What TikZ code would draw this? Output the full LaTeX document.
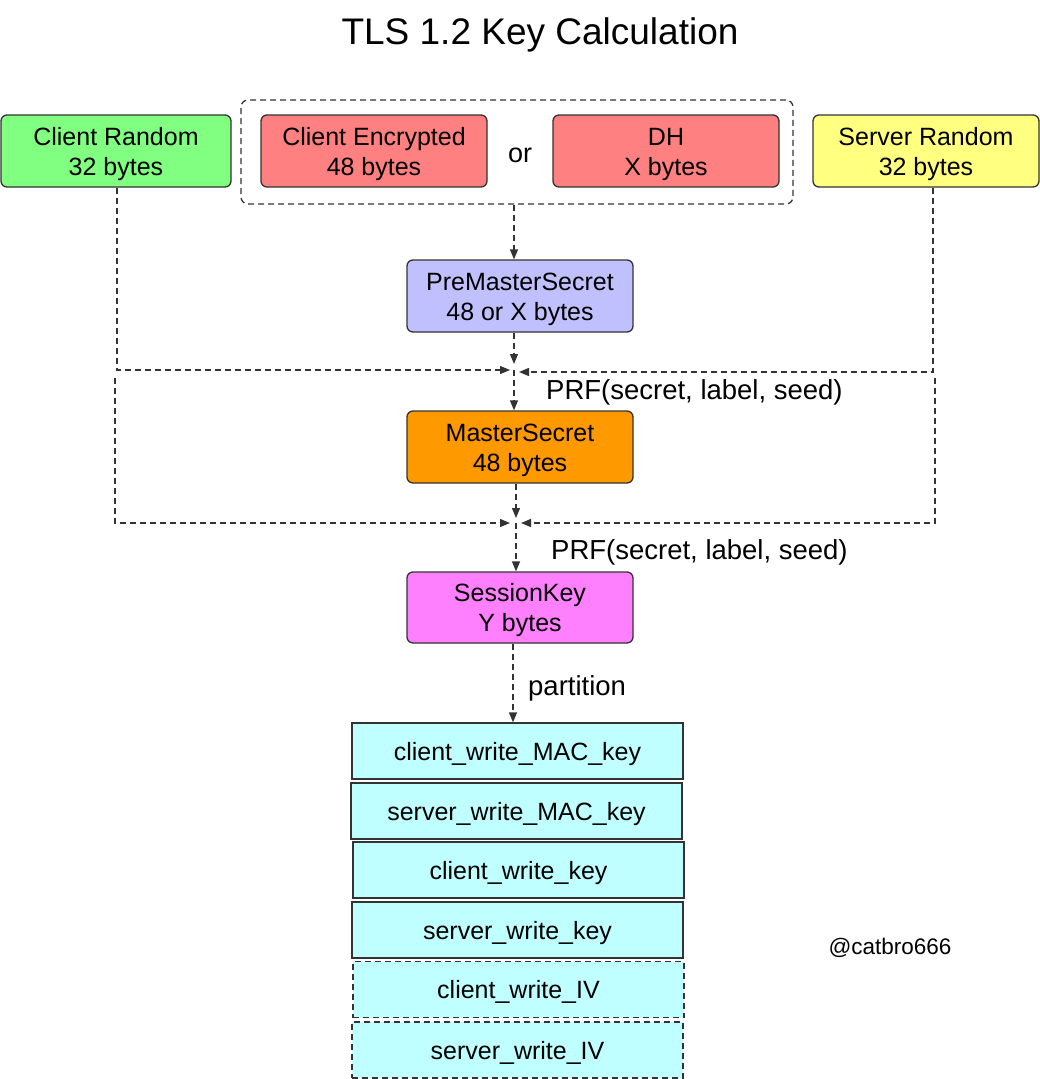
\documentclass[tikz,border=0pt]{standalone}
\usepackage{fontspec}
\setmainfont{Liberation Sans}
\usetikzlibrary{arrows.meta}
\definecolor{cgreen}{HTML}{80FF80}
\definecolor{cred}{HTML}{FF8080}
\definecolor{cyellow}{HTML}{FFFF80}
\definecolor{clav}{HTML}{C0C0FF}
\definecolor{corange}{HTML}{FF9900}
\definecolor{cmag}{HTML}{FF80FF}
\definecolor{ccyan}{HTML}{C0FFFF}
\definecolor{edge}{HTML}{333333}
\tikzset{
  box/.style={draw=edge, line width=1.3pt, rounded corners=6pt, minimum width=226pt, minimum height=72pt,
    inner sep=0pt, align=center, text height=53.6pt, text depth=5.2pt, font=\fontsize{25}{30}\selectfont},
  keybox/.style={draw=edge, line width=1.3pt, fill=ccyan, minimum width=331pt, minimum height=56pt,
    inner sep=0pt, align=center, text height=23pt, text depth=5pt, font=\fontsize{25}{30}\selectfont},
  conn/.style={draw=edge, line width=1.3pt, dash pattern=on 6pt off 4pt},
  arr/.style={conn, -{Triangle[length=10pt,width=8pt]}},
  lbl/.style={anchor=west, inner sep=0pt, font=\fontsize{27.5}{30}\selectfont}
}
\begin{document}
\begin{tikzpicture}[x=1pt,y=-1pt]
\useasboundingbox (0,0) rectangle (1040,1079);
\node[font=\fontsize{37}{40}\selectfont] (title) at (540,35) {TLS 1.2 Key Calculation};
% top row
\node[box, fill=cgreen, minimum width=230pt] (cr) at (116,151) {Client Random\\32 bytes};
\node[box, fill=cred] (ce) at (374,151) {Client Encrypted\\48 bytes};
\node[font=\fontsize{27}{30}\selectfont] (or) at (520,155) {or};
\node[box, fill=cred] (dh) at (666,151) {DH\\X bytes};
\node[box, fill=cyellow] (sr) at (926,151) {Server Random\\32 bytes};
\node[draw=edge, line width=1.3pt, dash pattern=on 6pt off 4pt, rounded corners=7pt,
      minimum width=552pt, minimum height=104pt, inner sep=0pt] (grp) at (517,152) {};
% middle
\node[box, fill=clav] (pms) at (520,296) {PreMasterSecret\\48 or X bytes};
\node[box, fill=corange] (ms) at (520,447) {MasterSecret\\48 bytes};
\node[box, fill=cmag, minimum height=71pt] (sk) at (520,607.5) {SessionKey\\Y bytes};
% keys
\node[keybox] (k1) at (517.5,751) {client\_write\_MAC\_key};
\node[keybox] (k2) at (516.5,811) {server\_write\_MAC\_key};
\node[keybox] (k3) at (518.5,870) {client\_write\_key};
\node[keybox] (k4) at (517.5,930) {server\_write\_key};
\node[keybox, dash pattern=on 6pt off 4pt] (k5) at (518.5,989.5) {client\_write\_IV};
\node[keybox, dash pattern=on 6pt off 4pt] (k6) at (517.5,1050) {server\_write\_IV};
% labels
\node[lbl] (prf1) at (546,392) {PRF(secret, label, seed)};
\node[lbl] (prf2) at (551,552) {PRF(secret, label, seed)};
\node[lbl] (part) at (528,688) {partition};
\node[font=\fontsize{22.5}{24}\selectfont] (cat) at (890,948) {@catbro666};
% merge coordinates
\coordinate (m1) at (514,370);
\coordinate (m1t) at (514,364);
\coordinate (l1) at (510,370);
\coordinate (r1) at (519,372);
\coordinate (cl1) at (117,370);
\coordinate (rr1) at (933,372);
\coordinate (m2) at (516,523);
\coordinate (m2t) at (516,518);
\coordinate (l2) at (510,523);
\coordinate (r2) at (521,523);
\coordinate (cl2s) at (115,378);
\coordinate (cl2) at (115,523);
\coordinate (rr2s) at (935,378);
\coordinate (rr2) at (935,523);
\coordinate (kx) at (513,700);
% connectors
\draw[arr] (grp.south -| m1) -- (pms.north -| m1);
\draw[arr] (pms.south -| m1) -- (m1t);
\draw[arr] (m1) -- (ms.north -| m1);
\draw[arr] (cr.south -| cl1) -- (cl1) -- (l1);
\draw[arr] (sr.south -| rr1) -- (rr1) -- (r1);
\draw[arr] (ms.south -| m2) -- (m2t);
\draw[arr] (m2) -- (sk.north -| m2);
\draw[arr] (cl2s) -- (cl2) -- (l2);
\draw[arr] (rr2s) -- (rr2) -- (r2);
\draw[arr] (sk.south -| kx) -- (k1.north -| kx);
\end{tikzpicture}
\end{document}
